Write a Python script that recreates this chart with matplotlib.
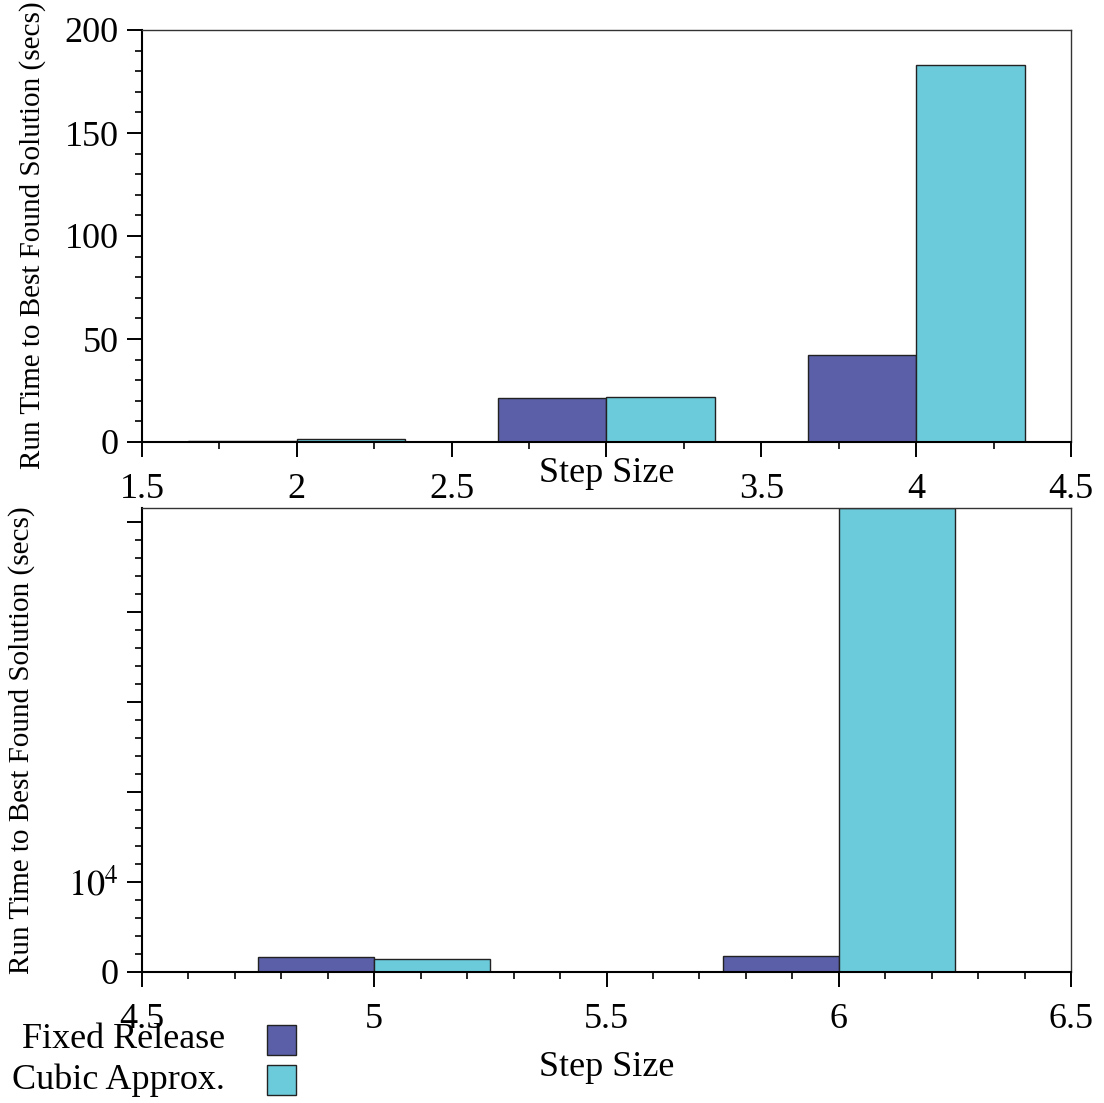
import matplotlib
matplotlib.use("Agg")
import matplotlib.pyplot as plt
from matplotlib.ticker import MultipleLocator, FixedLocator, FixedFormatter, FuncFormatter
from matplotlib.patches import Rectangle

plt.rcParams['font.family'] = ['Liberation Serif', 'DejaVu Serif']
plt.rcParams['mathtext.fontset'] = 'stix'

# Data
series_names = ["Fixed Release", "Cubic Approx."]
colors = ["#5a5fa8", "#6ccbdb"]

top_steps = [2, 3, 4]
top_fixed = [0.5, 21.5, 42.0]
top_cubic = [1.5, 21.8, 183.0]

bot_steps = [5, 6]
bot_fixed = [1700, 1750]
bot_cubic = [1400, 51500]

fig = plt.figure(figsize=(11.04, 11.03), dpi=100)
W, H = 1104, 1103

def fx(px): return px / W
def fy(py): return 1 - py / H

ax1 = fig.add_axes([fx(142), fy(442), fx(1071) - fx(142), fy(30) - fy(442)])
ax2 = fig.add_axes([fx(142), fy(972), fx(1071) - fx(142), fy(508) - fy(972)])

w1 = 0.35
ax1.bar([s - w1 / 2 for s in top_steps], top_fixed, width=w1, color=colors[0],
        edgecolor='#222222', linewidth=1.0)
ax1.bar([s + w1 / 2 for s in top_steps], top_cubic, width=w1, color=colors[1],
        edgecolor='#222222', linewidth=1.0)
ax1.set_xlim(1.5, 4.5)
ax1.set_ylim(0, 200)
ax1.xaxis.set_major_locator(MultipleLocator(0.5))
ax1.xaxis.set_minor_locator(MultipleLocator(0.25))
ax1.yaxis.set_major_locator(MultipleLocator(50))
ax1.yaxis.set_minor_locator(MultipleLocator(10))
# the "3" label is hidden behind the axis title in the reference
ax1.xaxis.set_major_formatter(FuncFormatter(lambda v, p: "" if abs(v - 3) < 1e-9 else f"{v:g}"))

w2 = 0.25
ax2.bar([s - w2 / 2 for s in bot_steps], bot_fixed, width=w2, color=colors[0],
        edgecolor='#222222', linewidth=1.0)
ax2.bar([s + w2 / 2 for s in bot_steps], bot_cubic, width=w2, color=colors[1],
        edgecolor='#222222', linewidth=1.0)
ax2.set_xlim(4.5, 6.5)
ax2.set_ylim(0, 51500)
ax2.xaxis.set_major_locator(MultipleLocator(0.5))
ax2.xaxis.set_minor_locator(MultipleLocator(0.1))
ax2.xaxis.set_major_formatter(FuncFormatter(lambda v, p: f"{v:g}"))
ax2.yaxis.set_major_locator(FixedLocator([0, 10000, 20000, 30000, 40000, 50000]))
ax2.yaxis.set_major_formatter(FixedFormatter(["0", r"$10^4$", "", "", "", ""]))
ax2.yaxis.set_minor_locator(MultipleLocator(2000))

for ax in (ax1, ax2):
    for sp in ax.spines.values():
        sp.set_linewidth(1.0)
        sp.set_color('#333333')
    ax.spines['bottom'].set_linewidth(1.5)
    ax.spines['bottom'].set_color('black')
    ax.spines['left'].set_linewidth(1.5)
    ax.spines['left'].set_color('black')
    ax.tick_params(axis='both', which='major', direction='out', length=11,
                   width=1.4, labelsize=26, pad=6, colors='black')
    ax.tick_params(axis='both', which='minor', direction='out', length=5,
                   width=1.2, colors='black')
    ax.tick_params(axis='x', which='major', pad=11)

fig.text(fx(33), fy(235), "Run Time to Best Found Solution (secs)", rotation=90,
         ha='center', va='center', fontsize=21)
fig.text(fx(22), fy(740), "Run Time to Best Found Solution (secs)", rotation=90,
         ha='center', va='center', fontsize=21)
fig.text(fx(607), fy(474), "Step Size", ha='center', va='center', fontsize=26)
fig.text(fx(607), fy(1067), "Step Size", ha='center', va='center', fontsize=26)

# Legend
leg_y = [1040, 1080]
for name, c, y in zip(series_names, colors, leg_y):
    fig.text(fx(225), fy(y), name, ha='right', va='center', fontsize=26)
    fig.patches.append(Rectangle((fx(267), fy(y + 15)), fx(296) - fx(267),
                                 fy(y - 15) - fy(y + 15), transform=fig.transFigure,
                                 facecolor=c, edgecolor='#222222', linewidth=1.0))

fig.savefig("out.png", dpi=100)
